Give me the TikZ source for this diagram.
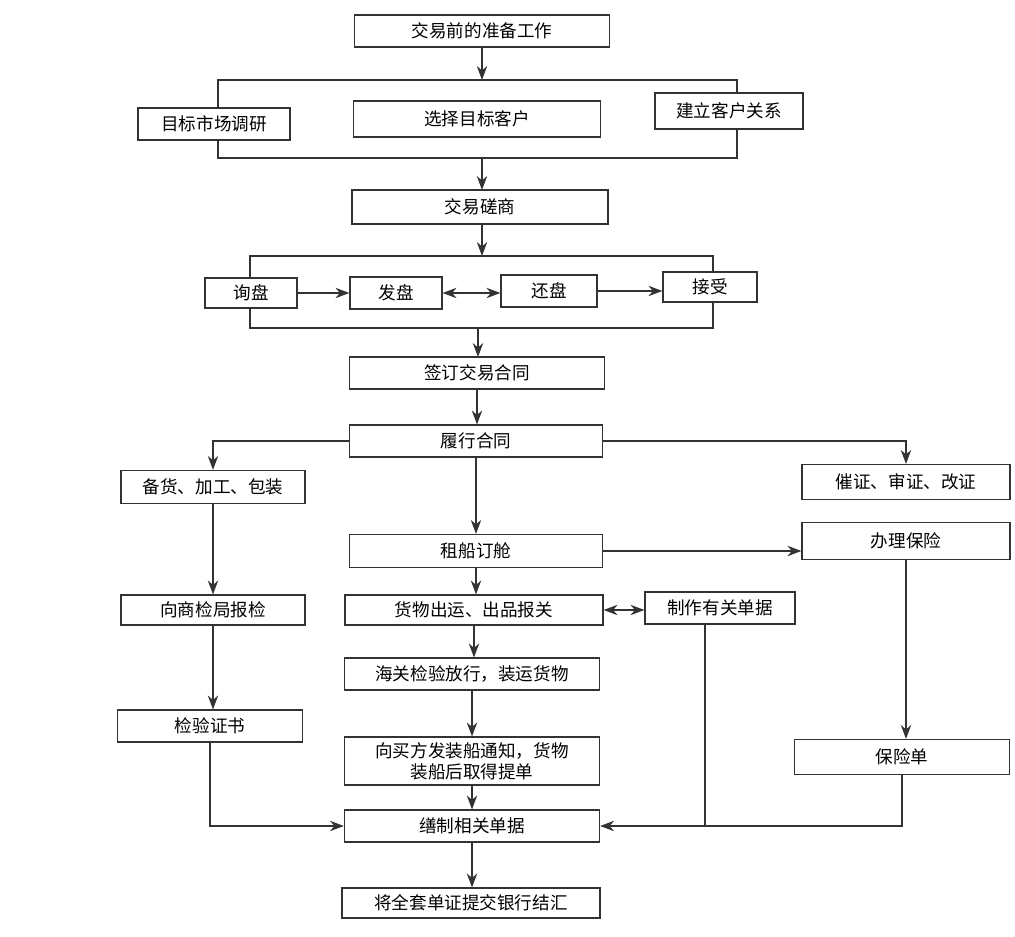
\documentclass[tikz,border=0pt]{standalone}
\usepackage{fontspec}
\setmainfont{Noto Sans CJK SC}
\usetikzlibrary{arrows, arrows.meta, positioning}
\begin{document}
\begin{tikzpicture}[
    x=0.025cm, y=-0.025cm,
    box/.style={rectangle, draw=black!80, fill=white, thick, inner sep=1pt, font=\fontsize{12.5}{15}\selectfont, align=center, minimum height=0.8cm},
    frame/.style={draw=black!80, thick},
    arrow/.style={-{Stealth[length=3.5mm, width=2.6mm]}, thick, draw=black!80},
    twoway/.style={{Stealth[length=3.5mm, width=2.6mm]}-{Stealth[length=3.5mm, width=2.6mm]}, thick, draw=black!80}
]
\useasboundingbox (0,0) rectangle (1015,937);

% Brackets behind the boxes
\draw[frame] (218,80) rectangle (737,158);
\draw[frame] (250,256) rectangle (713,328);

% Main boxes
\node[box, minimum width=6.375cm] (prep) at (482,31) {交易前的准备工作};
\node[box, minimum width=3.8cm] (market) at (214,124) {目标市场调研};
\node[box, minimum width=6.175cm, minimum height=0.9cm] (client) at (477,119) {选择目标客户};
\node[box, minimum width=3.7cm, minimum height=0.9cm] (relation) at (729,111) {建立客户关系};
\node[box, minimum width=6.4cm, minimum height=0.85cm] (nego) at (480,207) {交易磋商};

\node[box, minimum width=2.3cm, minimum height=0.75cm] (inquiry) at (251,293) {询盘};
\node[box, minimum width=2.3cm, minimum height=0.8cm] (offer) at (396,293) {发盘};
\node[box, minimum width=2.4cm, minimum height=0.8cm] (counter) at (549,291) {还盘};
\node[box, minimum width=2.35cm, minimum height=0.75cm] (accept) at (710,287) {接受};

\node[box, minimum width=6.375cm] (sign) at (477,373) {签订交易合同};
\node[box, minimum width=6.325cm] (perform) at (476,441) {履行合同};

\node[box, minimum width=4.6cm, minimum height=0.825cm] (goods) at (213,487) {备货、加工、包装};
\node[box, minimum width=5.2cm, minimum height=0.875cm] (credit) at (906,482) {催证、审证、改证};
\node[box, minimum width=6.325cm, minimum height=0.825cm] (ship) at (476,551) {租船订舱};
\node[box, minimum width=5.2cm, minimum height=0.925cm] (insure) at (906,541) {办理保险};

\node[box, minimum width=4.6cm, minimum height=0.75cm] (inspect) at (213,610) {向商检局报检};
\node[box, minimum width=6.45cm, minimum height=0.75cm] (customs) at (474,610) {货物出运、出品报关};
\node[box, minimum width=3.75cm, minimum height=0.8cm] (docs) at (720,608) {制作有关单据};
\node[box, minimum width=6.375cm, minimum height=0.8cm] (release) at (472,674) {海关检验放行，装运货物};
\node[box, minimum width=4.625cm, minimum height=0.8cm] (cert) at (210,726) {检验证书};
\node[box, minimum width=6.375cm, minimum height=1.2cm] (notice) at (472,761) {向买方发装船通知，货物\\装船后取得提单};
\node[box, minimum width=5.375cm, minimum height=0.875cm] (policy) at (902,757) {保险单};
\node[box, minimum width=6.375cm, minimum height=0.8cm] (prepare) at (472,826) {缮制相关单据};
\node[box, minimum width=6.45cm, minimum height=0.75cm] (submit) at (471,903) {将全套单证提交银行结汇};

% Arrows
\draw[arrow] (prep) -- (482,80);
\draw[arrow] (482,158) -- (482,190);
\draw[arrow] (482,225) -- (482,256);
\draw[arrow] (inquiry) -- (inquiry -| offer.west);
\draw[twoway] (offer) -- (offer -| counter.west);
\draw[arrow] (counter.east) -- (counter.east -| accept.west);
\draw[arrow] (478,328) -- (478,357);
\draw[arrow] (sign) -- (sign |- perform.north);
\draw[arrow] (perform.west) -| (goods);
\draw[arrow] (perform.east) -| (credit);
\draw[arrow] (perform) -- (perform |- ship.north);
\draw[arrow] (goods) -- (inspect);
\draw[arrow] (inspect) -- (inspect |- cert.north);
\draw[arrow] (ship) -- (ship -| insure.west);
\draw[arrow] (insure) -- (insure |- policy.north);
\draw[arrow] (ship) -- (ship |- customs.north);
\draw[twoway] (customs) -- (customs -| docs.west);
\draw[arrow] (customs) -- (customs |- release.north);
\draw[arrow] (release) -- (release |- notice.north);
\draw[arrow] (notice) -- (prepare);
\draw[arrow] (cert) |- (prepare);
\draw[arrow] (policy) |- (prepare);
\draw[thick, draw=black!80] (705,624) -- (705,826);
\draw[arrow] (prepare) -- (prepare |- submit.north);
\end{tikzpicture}
\end{document}
